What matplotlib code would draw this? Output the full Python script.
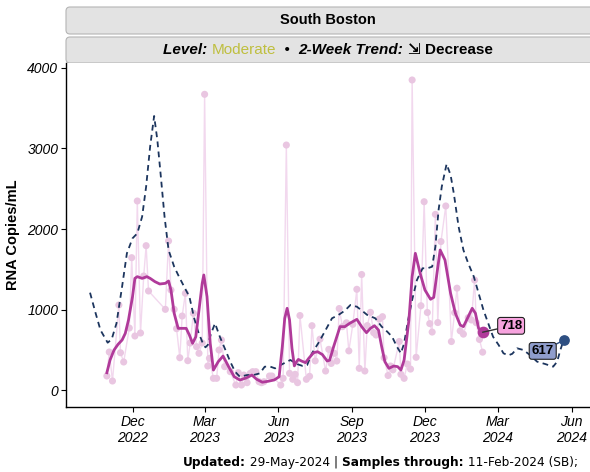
import pandas as pd
import matplotlib
matplotlib.use("Agg")
import matplotlib.pyplot as plt
import matplotlib.dates as mdates
from matplotlib.patches import FancyBboxPatch
from matplotlib.transforms import IdentityTransform

plt.rcParams['font.family'] = ['Liberation Sans', 'DejaVu Sans']

# raw samples (RNA copies/mL)
raw_dates = [
    "2022-10-30", "2022-11-02", "2022-11-06", "2022-11-14", "2022-11-16", "2022-11-20", "2022-11-27", "2022-11-30",
    "2022-12-04", "2022-12-07", "2022-12-11", "2022-12-15", "2022-12-18", "2022-12-21",
    "2023-01-11", "2023-01-15", "2023-01-18", "2023-01-22", "2023-01-25", "2023-01-29",
    "2023-02-01", "2023-02-05", "2023-02-08", "2023-02-11", "2023-02-15", "2023-02-19", "2023-02-22", "2023-02-26",
    "2023-03-01", "2023-03-05", "2023-03-07", "2023-03-12", "2023-03-16", "2023-03-19", "2023-03-22", "2023-03-26",
    "2023-04-02", "2023-04-09", "2023-04-12", "2023-04-16", "2023-04-19", "2023-04-23", "2023-04-27", "2023-04-30",
    "2023-05-04", "2023-05-08", "2023-05-11", "2023-05-14", "2023-05-21", "2023-05-24",
    "2023-06-04", "2023-06-07", "2023-06-11", "2023-06-15", "2023-06-19", "2023-06-22", "2023-06-25", "2023-06-28",
    "2023-07-06", "2023-07-10", "2023-07-13", "2023-07-17", "2023-07-23", "2023-07-30",
    "2023-08-03", "2023-08-06", "2023-08-10", "2023-08-13", "2023-08-16", "2023-08-20", "2023-08-25", "2023-08-28",
    "2023-09-02", "2023-09-07", "2023-09-10", "2023-09-13", "2023-09-17", "2023-09-20", "2023-09-24", "2023-09-28",
    "2023-10-01", "2023-10-05", "2023-10-09", "2023-10-11", "2023-10-16", "2023-10-19", "2023-10-22", "2023-10-30",
    "2023-11-01", "2023-11-05", "2023-11-09", "2023-11-13", "2023-11-15", "2023-11-20", "2023-11-26", "2023-11-30",
    "2023-12-04", "2023-12-07", "2023-12-10", "2023-12-14", "2023-12-17", "2023-12-21", "2023-12-27",
    "2024-01-03", "2024-01-07", "2024-01-10", "2024-01-14", "2024-01-18", "2024-01-24", "2024-01-28",
    "2024-02-01", "2024-02-03", "2024-02-07", "2024-02-11"]
raw_vals = [
    174, 472, 112, 1056, 463, 348, 770, 1644,
    671, 2348, 708, 1416, 1793, 1230,
    1002, 1851, 1242, 1002, 762, 401,
    919, 1201, 364, 584, 953, 538, 456, 584,
    3673, 298, 394, 145, 145, 497, 621, 290,
    228, 62, 215, 62, 186, 91, 207, 228,
    228, 103, 91, 103, 174, 174,
    62, 145, 3043, 207, 133, 195, 91, 925,
    133, 170, 799, 362, 632, 236,
    505, 330, 456, 360, 1012, 787, 835, 486,
    816, 1251, 269, 1435, 236, 800, 965, 712,
    683, 882, 911, 401, 180, 298, 250, 603,
    195, 145, 323, 260, 3851, 406, 1047, 2339,
    963, 825, 720, 2182, 838, 1844, 2286,
    602, 961, 1265, 735, 694, 898, 870,
    1366, 836, 628, 470]

# smoothed trend (solid)
smooth_dates = [
    "2022-10-30", "2022-11-03", "2022-11-08", "2022-11-13", "2022-11-18", "2022-11-22", "2022-11-26", "2022-12-01",
    "2022-12-04", "2022-12-07", "2022-12-13", "2022-12-19", "2022-12-23", "2022-12-29", "2023-01-04", "2023-01-11",
    "2023-01-15", "2023-01-18", "2023-01-22", "2023-01-27", "2023-02-01", "2023-02-06", "2023-02-10", "2023-02-14",
    "2023-02-18", "2023-02-22", "2023-02-26", "2023-02-28", "2023-03-04", "2023-03-08", "2023-03-12", "2023-03-18",
    "2023-03-24", "2023-03-31", "2023-04-07", "2023-04-14", "2023-04-22", "2023-04-29", "2023-05-05", "2023-05-12",
    "2023-05-19", "2023-05-27", "2023-06-02", "2023-06-06", "2023-06-09", "2023-06-12", "2023-06-15", "2023-06-18",
    "2023-06-21", "2023-06-24", "2023-06-26", "2023-06-30", "2023-07-05", "2023-07-09", "2023-07-15", "2023-07-20",
    "2023-07-26", "2023-08-01", "2023-08-04", "2023-08-09", "2023-08-17", "2023-08-23", "2023-08-29", "2023-09-07",
    "2023-09-13", "2023-09-19", "2023-09-24", "2023-09-29", "2023-10-04", "2023-10-08", "2023-10-12", "2023-10-17",
    "2023-10-23", "2023-10-28", "2023-11-01", "2023-11-05", "2023-11-11", "2023-11-15", "2023-11-19", "2023-11-25",
    "2023-12-01", "2023-12-08", "2023-12-12", "2023-12-16", "2023-12-20", "2023-12-26", "2024-01-02", "2024-01-08",
    "2024-01-14", "2024-01-18", "2024-01-24", "2024-01-29", "2024-02-02", "2024-02-06", "2024-02-11"]
smooth_vals = [
    215, 373, 497, 568, 621, 704, 870, 1159, 1387, 1408,
    1387, 1408, 1387, 1346, 1317, 1325, 1354, 1242, 953, 766,
    766, 766, 683, 580, 662, 994, 1325, 1429, 1159, 580,
    248, 352, 422, 290, 165, 124, 150, 186, 133, 97,
    108, 125, 165, 540, 890, 1015, 870, 520, 300, 355,
    380, 360, 340, 394, 463, 476, 440, 360, 370, 538,
    787, 787, 828, 878, 787, 712, 766, 799, 745, 538,
    352, 269, 298, 290, 248, 373, 870, 1408, 1698, 1449,
    1242, 1127, 1151, 1449, 1739, 1615, 1201, 953, 807, 787,
    911, 1015, 953, 766, 718]

# dashed comparison series
dash_dates = [
    "2022-10-09", "2022-10-16", "2022-10-22", "2022-10-31", "2022-11-05", "2022-11-11", "2022-11-18", "2022-11-24",
    "2022-12-01", "2022-12-07", "2022-12-13", "2022-12-18", "2022-12-23", "2022-12-28", "2023-01-01", "2023-01-05",
    "2023-01-10", "2023-01-15", "2023-01-22", "2023-01-28", "2023-02-03", "2023-02-10", "2023-02-16", "2023-02-21",
    "2023-02-26", "2023-03-02", "2023-03-05", "2023-03-09", "2023-03-14", "2023-03-20", "2023-03-27", "2023-04-02",
    "2023-04-08", "2023-04-14", "2023-04-23", "2023-05-01", "2023-05-09", "2023-05-15", "2023-05-22", "2023-05-28",
    "2023-06-04", "2023-06-16", "2023-06-25", "2023-07-01", "2023-07-07", "2023-07-13", "2023-07-22", "2023-07-30",
    "2023-08-07", "2023-08-15", "2023-08-23", "2023-08-30", "2023-09-07", "2023-09-15", "2023-09-20", "2023-09-30",
    "2023-10-08", "2023-10-15", "2023-10-21", "2023-10-27", "2023-11-01", "2023-11-05", "2023-11-10", "2023-11-15",
    "2023-11-21", "2023-11-28", "2023-12-04", "2023-12-10", "2023-12-14", "2023-12-18", "2023-12-22", "2023-12-28",
    "2024-01-02", "2024-01-06", "2024-01-12", "2024-01-18", "2024-01-24", "2024-01-31", "2024-02-06", "2024-02-12",
    "2024-02-18", "2024-02-24", "2024-03-02", "2024-03-08", "2024-03-14", "2024-03-19", "2024-03-25", "2024-04-02",
    "2024-04-10", "2024-04-19", "2024-04-29", "2024-05-09", "2024-05-14", "2024-05-18", "2024-05-22"]
dash_vals = [
    1209, 953, 745, 588, 630, 828, 1284, 1698, 1884, 1946,
    2153, 2526, 3023, 3404, 3106, 2692, 2153, 1739, 1532, 1408,
    1292, 1159, 891, 724, 600, 530, 560, 700, 828, 662,
    497, 352, 228, 165, 186, 186, 207, 290, 290, 269,
    311, 373, 320, 300, 311, 456, 600, 745, 891, 932,
    986, 1056, 1035, 973, 932, 891, 787, 724, 662, 538,
    456, 580, 870, 1118, 1366, 1512, 1512, 1532, 1780, 2236,
    2526, 2807, 2671, 2443, 2029, 1739, 1574, 1408, 1201, 994,
    828, 662, 559, 456, 430, 450, 518, 497, 435, 352,
    323, 290, 352, 497, 617]

y_ticks = [0, 1000, 2000, 3000, 4000]

raw_dt = pd.to_datetime(raw_dates)
smooth_dt = pd.to_datetime(smooth_dates)
dash_dt = pd.to_datetime(dash_dates)

fig = plt.figure(figsize=(5.9, 4.72), dpi=100)
ax = fig.add_axes([66 / 590, 65 / 472, 524 / 590, 344 / 472])

ax.plot(raw_dt, raw_vals, color='#f2d8ee', lw=1, zorder=1)
ax.scatter(raw_dt, raw_vals, s=26, color='#e9c6e1', edgecolors='none', zorder=2)
ax.plot(dash_dt, dash_vals, color='#1c355e', lw=1.3, ls=(0, (3.2, 2.4)), zorder=3)
ax.plot(smooth_dt, smooth_vals, color='#b03a9a', lw=2, zorder=4)
ax.scatter([smooth_dt[-1]], [smooth_vals[-1]], s=55, color='#b03a9a', zorder=5)
ax.scatter([dash_dt[-1]], [dash_vals[-1]], s=45, color='#2e4f82', zorder=5)

ax.annotate(str(smooth_vals[-1]), xy=(smooth_dt[-1], smooth_vals[-1]), xytext=(20.5, 4.6),
            textcoords='offset points', ha='center', va='center', fontsize=9.5, weight='bold',
            bbox=dict(boxstyle='round,pad=0.18,rounding_size=0.2', fc='#f7a3de', ec='#222222', lw=0.8),
            arrowprops=dict(arrowstyle='-', color='#333333', lw=1, shrinkA=0, shrinkB=0), zorder=6)
ax.annotate(str(dash_vals[-1]), xy=(dash_dt[-1], dash_vals[-1]), xytext=(-15, -7.6),
            textcoords='offset points', ha='center', va='center', fontsize=9.5, weight='bold',
            bbox=dict(boxstyle='round,pad=0.18,rounding_size=0.2', fc='#8f9dcc', ec='#222222', lw=0.8),
            arrowprops=dict(arrowstyle='-', color='#2e4f82', lw=1, shrinkA=0, shrinkB=0), zorder=6)

ax.set_xlim(pd.Timestamp('2022-09-09'), pd.Timestamp('2024-06-24'))
ax.set_ylim(-211, 4062)
ax.set_yticks(y_ticks)
ax.set_yticklabels([str(v) for v in y_ticks], fontstyle='italic', fontsize=10)
ax.xaxis.set_major_locator(mdates.MonthLocator(bymonth=[3, 6, 9, 12]))
ax.xaxis.set_major_formatter(mdates.DateFormatter('%b\n%Y'))
for lab in ax.get_xticklabels():
    lab.set_fontstyle('italic')
    lab.set_fontsize(10)
ax.tick_params(direction='out', length=3.5, width=0.8, colors='black', pad=2)
for s in ['top', 'right']:
    ax.spines[s].set_visible(False)
for s in ['left', 'bottom']:
    ax.spines[s].set_linewidth(1)
ax.set_ylabel('RNA Copies/mL', fontsize=10.5, weight='bold', labelpad=5)

# facet strips (pixel coords), drawn under everything
px = IdentityTransform()
for y0, h in [(438, 27), (409, 26)]:
    fig.add_artist(FancyBboxPatch((66, y0), 540, h, boxstyle='round,pad=0,rounding_size=4',
                                  fc='#e3e3e3', ec='#b5b5b5', lw=0.8, transform=px, zorder=-1))
fig.text(328, 451.5, 'South Boston', transform=px, ha='center', va='center', fontsize=10.5, weight='bold')


def chain(x, y, parts, fontsize):
    texts = []
    first = fig.text(x, y, parts[0][0], transform=px, ha='left', va='baseline',
                     fontsize=fontsize, **parts[0][1])
    texts.append(first)
    prev = first
    for s, kw in parts[1:]:
        t = ax.annotate(s, xy=(1, 0), xycoords=prev, ha='left', va='bottom',
                        fontsize=fontsize, annotation_clip=False, zorder=10, **kw)
        texts.append(t)
        prev = t
    return texts


trend_parts = [
    ('Level: ', dict(weight='bold', style='italic')),
    ('Moderate', dict(color='#bfbf3f')),
    ('  \u2022  ', dict()),
    ('2-Week Trend: ', dict(weight='bold', style='italic')),
    ('\u21f2 Decrease', dict(weight='bold')),
]
trend = chain(160, 418, trend_parts, 11)

foot_parts = [
    ('Updated:', dict(weight='bold', family='DejaVu Sans')),
    (' 29-May-2024 | ', dict(family='DejaVu Sans')),
    ('Samples through:', dict(weight='bold', family='DejaVu Sans')),
    (' 11-Feb-2024 (SB);', dict(family='DejaVu Sans')),
]
foot = chain(183, 6, foot_parts, 8.7)

# center the subtitle line in its strip
fig.canvas.draw()
r = fig.canvas.get_renderer()
x0 = min(t.get_window_extent(r).x0 for t in trend)
x1 = max(t.get_window_extent(r).x1 for t in trend)
trend[0].set_x(160 + 328 - (x0 + x1) / 2)

fig.savefig('out.png', dpi=100)
